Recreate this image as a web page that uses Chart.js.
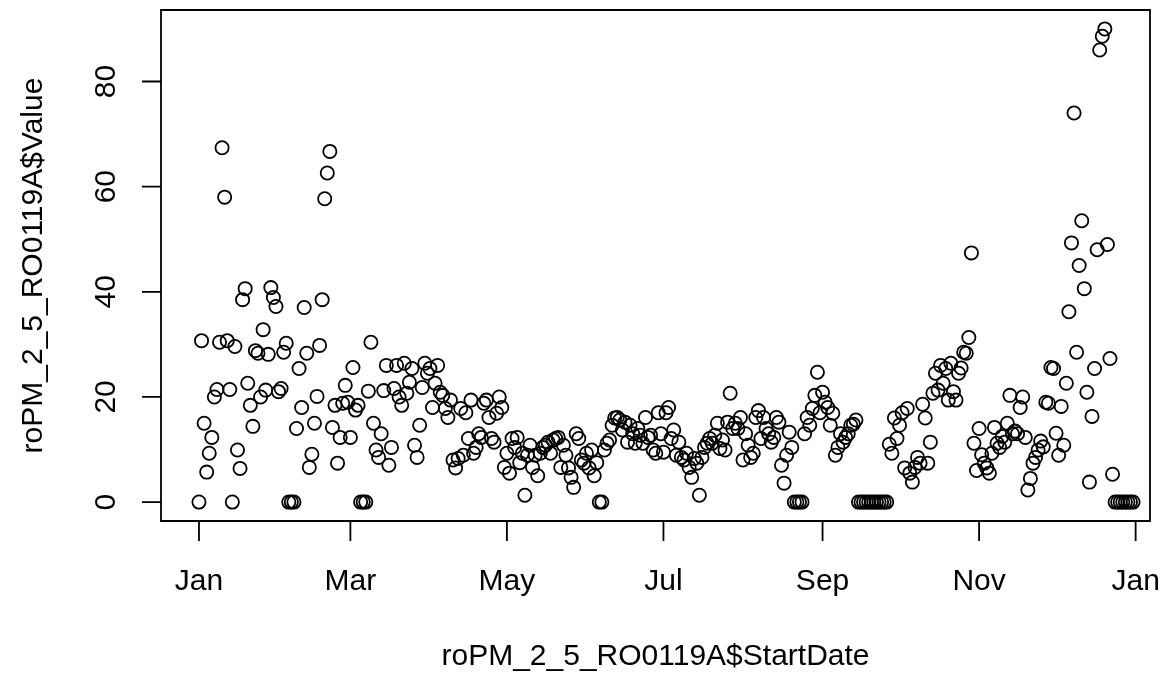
<!DOCTYPE html>
<html>
<head>
<meta charset="utf-8">
<script src="https://cdn.jsdelivr.net/npm/chart.js@4.4.1/dist/chart.umd.min.js"></script>
<style>
  html, body { margin: 0; padding: 0; background: #ffffff; overflow: hidden; }
  #c { display: block; }
</style>
</head>
<body>
<canvas id="c" width="1166" height="673"></canvas>
<script>
// Daily PM2.5 values, one array per month
const jan = [0, 30.7, 15, 5.7, 9.3, 12.3, 20, 21.4, 30.4, 67.4, 58, 30.7, 21.4, 0, 29.6, 9.9, 6.4, 38.5, 40.6, 22.6, 18.4, 14.4, 28.8, 28.3, 20, 32.8, 21.3, 28.1, 40.8, 38.9, 37.2];
const feb = [21, 21.6, 28.5, 30.2, 0, 0, 0, 14, 25.4, 18, 37, 28.3, 6.6, 9.1, 15, 20.1, 29.8, 38.5, 57.7, 62.6, 66.7, 14.2, 18.4, 7.4, 12.3, 18.8, 22.2, 19];
const mar = [12.3, 25.6, 17.5, 18.4, 0, 0, 0, 21.1, 30.4, 15, 9.9, 8.5, 13, 21.2, 26, 7, 10.4, 21.6, 26, 20, 18.4, 26.4, 20.7, 22.8, 25.4, 10.8, 8.5, 14.6, 21.8, 26.4, 24.5];
const apr = [25.4, 18, 22.6, 26, 20.9, 20.3, 17.8, 16.1, 19.4, 8, 6.5, 8.3, 17.8, 8.9, 17, 12.1, 19.4, 9.3, 10.4, 13, 12.3, 18.8, 19.4, 16.1, 12.1, 11.4, 16.9, 20, 18, 6.6];
const may = [9.3, 5.5, 12.1, 10.4, 12.3, 7.5, 9.3, 1.3, 8.9, 10.8, 6.6, 8.9, 5, 9.3, 10.4, 10.8, 11.4, 9.3, 11.8, 12.1, 12.3, 6.6, 10.8, 8.9, 6.5, 4.7, 2.8, 13, 12.1, 8, 7.4];
const jun = [9.3, 6.5, 9.9, 5, 7.5, 0, 0, 9.9, 11.2, 11.8, 14.6, 16, 16.1, 15.6, 13.7, 15.2, 11.4, 14.6, 13, 11.2, 14, 12.7, 11.2, 16.1, 12.3, 12.7, 9.9, 9.3, 17, 13];
const jul = [9.5, 17, 18, 12.1, 13.7, 8.9, 11.4, 8.5, 8, 9.3, 6.6, 4.7, 8.3, 7.4, 1.3, 8.5, 10.4, 11.2, 12.1, 11.2, 12.7, 15, 10.2, 11.8, 9.9, 15.2, 20.7, 14, 15, 14, 16.1];
const aug = [8, 13, 10.8, 8.5, 9.3, 16.1, 17.4, 12.1, 16.1, 14, 13, 11.4, 12.3, 16.1, 15.2, 7, 3.6, 8.9, 13.3, 10.4, 0, 0, 0, 0, 13, 16.1, 14.6, 17.8, 20.3, 24.7, 17];
const sep = [20.9, 19, 18, 14.6, 16.9, 8.9, 10.4, 13, 11.4, 12.3, 13, 14.6, 14.8, 15.6, 0, 0, 0, 0, 0, 0, 0, 0, 0, 0, 0, 0, 11, 9.3, 16, 12.1];
const oct = [14.6, 17, 6.5, 17.8, 5.5, 3.8, 6.6, 8.5, 7.4, 18.6, 16, 7.4, 11.4, 20.7, 24.5, 21.3, 26, 22.6, 25.4, 19.4, 26.4, 21, 19.4, 24.5, 25.5, 28.5, 28.3, 31.3, 47.4, 11.2, 6];
const nov = [14, 9, 7.4, 6.5, 5.5, 9.3, 14.2, 11.2, 10.4, 12.5, 11.4, 15, 20.3, 13, 13.5, 13, 18, 20, 12.3, 2.3, 4.5, 7.4, 8.5, 9.9, 11.6, 10.5, 19, 18.8, 25.6, 25.4];
const dec = [13.1, 8.9, 18.2, 10.8, 22.6, 36.2, 49.3, 74, 28.5, 45, 53.5, 40.6, 20.9, 3.8, 16.3, 25.4, 48, 86, 88.6, 90, 49, 27.3, 5.3, 0, 0, 0, 0, 0, 0, 0, 0];

// Axis ticks (day of year of month starts) and labels
const xTickDays = [0, 59, 120, 181, 243, 304, 365];
const xTickLabels = ['Jan', 'Mar', 'May', 'Jul', 'Sep', 'Nov', 'Jan'];
const yTicks = [0, 20, 40, 60, 80];

const xTitle = 'roPM_2_5_RO0119A$StartDate';
const yTitle = 'roPM_2_5_RO0119A$Value';

const months = [jan, feb, mar, apr, may, jun, jul, aug, sep, oct, nov, dec];
const points = [];
let day = 0;
for (const m of months) {
  for (const v of m) { points.push({ x: day, y: v }); day++; }
}

const FONT = '30px "Liberation Sans", Arial, Helvetica, sans-serif';

const rAxes = {
  id: 'rAxes',
  afterDraw(chart) {
    const ctx = chart.ctx;
    const a = chart.chartArea;
    const xs = chart.scales.x, ys = chart.scales.y;
    ctx.save();
    ctx.strokeStyle = '#000';
    ctx.fillStyle = '#000';
    ctx.lineWidth = 1.8;
    // box
    ctx.beginPath();
    ctx.rect(a.left, a.top, a.right - a.left, a.bottom - a.top);
    ctx.stroke();
    // x axis ticks and labels
    ctx.font = FONT;
    ctx.textAlign = 'center';
    ctx.textBaseline = 'alphabetic';
    ctx.beginPath();
    const x0 = xs.getPixelForValue(xTickDays[0]);
    const x1 = xs.getPixelForValue(xTickDays[xTickDays.length - 1]);
    ctx.moveTo(x0, a.bottom); ctx.lineTo(x1, a.bottom);
    xTickDays.forEach((d) => {
      const px = xs.getPixelForValue(d);
      ctx.moveTo(px, a.bottom); ctx.lineTo(px, a.bottom + 20);
    });
    ctx.stroke();
    xTickDays.forEach((d, i) => {
      ctx.fillText(xTickLabels[i], xs.getPixelForValue(d), 590);
    });
    // y axis ticks and labels
    ctx.beginPath();
    yTicks.forEach((v) => {
      const py = ys.getPixelForValue(v);
      ctx.moveTo(a.left, py); ctx.lineTo(a.left - 19, py);
    });
    ctx.stroke();
    yTicks.forEach((v) => {
      const py = ys.getPixelForValue(v);
      ctx.save();
      ctx.translate(115, py);
      ctx.rotate(-Math.PI / 2);
      ctx.fillText(String(v), 0, 0);
      ctx.restore();
    });
    // titles
    ctx.fillText(xTitle, (a.left + a.right) / 2, 665);
    ctx.save();
    ctx.translate(42, (a.top + a.bottom) / 2);
    ctx.rotate(-Math.PI / 2);
    ctx.fillText(yTitle, 0, 0);
    ctx.restore();
    ctx.restore();
  }
};

new Chart(document.getElementById('c'), {
  type: 'scatter',
  data: {
    datasets: [{
      data: points,
      pointStyle: 'circle',
      pointRadius: 6.6,
      pointHoverRadius: 6.6,
      pointBorderWidth: 1.8,
      pointBorderColor: '#000000',
      pointBackgroundColor: 'rgba(0,0,0,0)'
    }]
  },
  options: {
    responsive: false,
    animation: false,
    devicePixelRatio: 1,
    layout: { padding: { left: 161, top: 10, right: 16, bottom: 152 } },
    plugins: { legend: { display: false }, tooltip: { enabled: false } },
    scales: {
      x: { type: 'linear', display: false, min: -14.8, max: 370.6 },
      y: { type: 'linear', display: false, min: -3.6, max: 93.6 }
    }
  },
  plugins: [rAxes]
});
</script>
</body>
</html>
